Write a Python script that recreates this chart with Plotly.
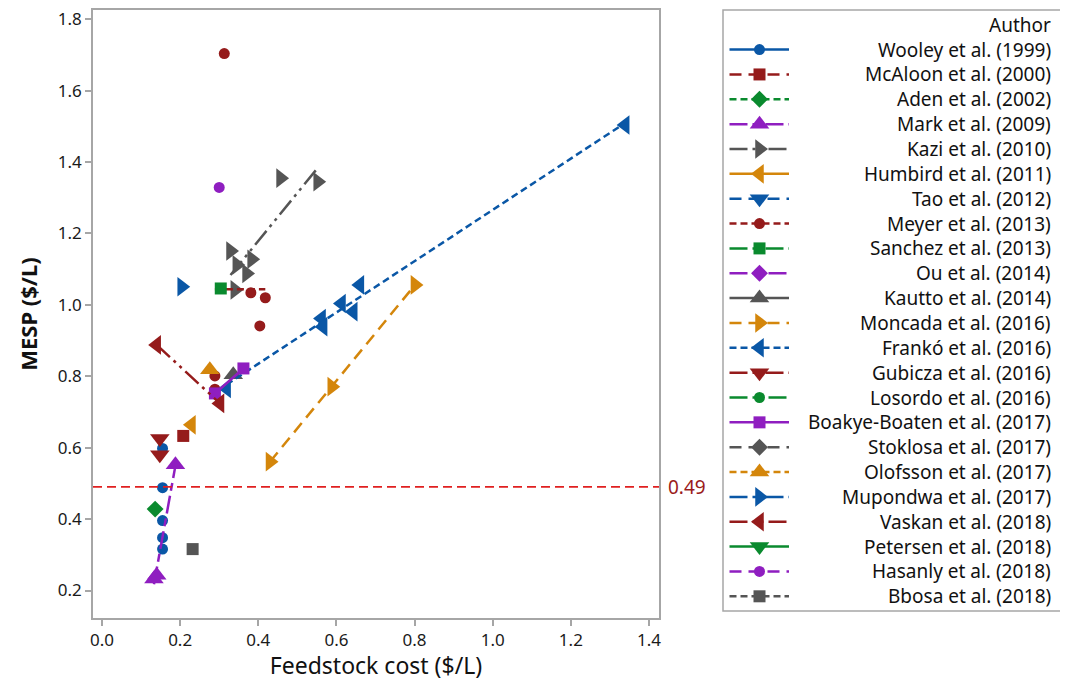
import numpy as np
import plotly.graph_objects as go

# ---------------- data ----------------
authors = [
    "Wooley et al. (1999)", "McAloon et al. (2000)", "Aden et al. (2002)",
    "Mark et al. (2009)", "Kazi et al. (2010)", "Humbird et al. (2011)",
    "Tao et al. (2012)", "Meyer et al. (2013)", "Sanchez et al. (2013)",
    "Ou et al. (2014)", "Kautto et al. (2014)", "Moncada et al. (2016)",
    "Frankó et al. (2016)", "Gubicza et al. (2016)", "Losordo et al. (2016)",
    "Boakye-Boaten et al. (2017)", "Stoklosa et al. (2017)", "Olofsson et al. (2017)",
    "Mupondwa et al. (2017)", "Vaskan et al. (2018)", "Petersen et al. (2018)",
    "Hasanly et al. (2018)", "Bbosa et al. (2018)",
]

wooley_x = [0.155, 0.155, 0.155, 0.155, 0.155]
wooley_y = [0.598, 0.488, 0.396, 0.348, 0.316]
mcaloon_x = [0.208]
mcaloon_y = [0.633]
aden_x = [0.136]
aden_y = [0.428]
mark_x = [0.133, 0.140, 0.188]
mark_y = [0.232, 0.243, 0.552]
kazi_x = [0.329, 0.340, 0.345, 0.370, 0.383, 0.457, 0.552]
kazi_y = [1.151, 1.042, 1.112, 1.088, 1.128, 1.355, 1.345]
humbird_x = [0.229]
humbird_y = [0.664]
tao_x = []
tao_y = []
meyer_x = [0.289, 0.289, 0.313, 0.381, 0.404, 0.418]
meyer_y = [0.801, 0.764, 1.704, 1.034, 0.941, 1.020]
sanchez_x = [0.304]
sanchez_y = [1.046]
ou_x = []
ou_y = []
kautto_x = [0.336]
kautto_y = [0.804]
moncada_x = [0.430, 0.588, 0.801]
moncada_y = [0.561, 0.771, 1.056]
franko_x = [0.319, 0.562, 0.566, 0.613, 0.643, 0.660, 1.339]
franko_y = [0.766, 0.962, 0.939, 1.004, 0.981, 1.056, 1.504]
gubicza_x = [0.148, 0.148]
gubicza_y = [0.626, 0.580]
losordo_x = []
losordo_y = []
boakye_x = [0.289, 0.362]
boakye_y = [0.752, 0.822]
stoklosa_x = []
stoklosa_y = []
olofsson_x = [0.276]
olofsson_y = [0.818]
mupondwa_x = [0.204]
mupondwa_y = [1.051]
vaskan_x = [0.140, 0.302]
vaskan_y = [0.888, 0.724]
petersen_x = []
petersen_y = []
hasanly_x = [0.300]
hasanly_y = [1.329]
bbosa_x = [0.232]
bbosa_y = [0.316]

series_x = [wooley_x, mcaloon_x, aden_x, mark_x, kazi_x, humbird_x, tao_x, meyer_x,
            sanchez_x, ou_x, kautto_x, moncada_x, franko_x, gubicza_x, losordo_x,
            boakye_x, stoklosa_x, olofsson_x, mupondwa_x, vaskan_x, petersen_x,
            hasanly_x, bbosa_x]
series_y = [wooley_y, mcaloon_y, aden_y, mark_y, kazi_y, humbird_y, tao_y, meyer_y,
            sanchez_y, ou_y, kautto_y, moncada_y, franko_y, gubicza_y, losordo_y,
            boakye_y, stoklosa_y, olofsson_y, mupondwa_y, vaskan_y, petersen_y,
            hasanly_y, bbosa_y]

threshold = 0.49
x_ticks = [0.0, 0.2, 0.4, 0.6, 0.8, 1.0, 1.2, 1.4]
y_ticks = [0.2, 0.4, 0.6, 0.8, 1.0, 1.2, 1.4, 1.6, 1.8]

# ---------------- styles ----------------
FONT = "Noto Sans"
palette = ["#0a57a6", "#951b1b", "#0a8a2e", "#8f1ec0", "#555555", "#d4860b"]
symbol_cycle = ["circle", "square", "diamond", "triangle-up", "triangle-right",
                "triangle-left", "triangle-down"]
size_cycle = [11, 12, 13, 17, 17, 17, 17]
dash_cycle = ["solid", "12px,7px", "7px,4px", "18px,5px,8px,5px",
              "18px,5px,3px,5px,3px,5px"]

fig = go.Figure()

for i, name in enumerate(authors):
    color = palette[i % 6]
    sym = symbol_cycle[i % 7]
    msize = size_cycle[i % 7]
    dash = dash_cycle[i % 5]
    xs = np.array(series_x[i], dtype=float)
    ys = np.array(series_y[i], dtype=float)
    if len(xs) >= 2 and np.ptp(xs) > 0:
        b, a = np.polyfit(xs, ys, 1)
        lx = np.array([xs.min(), xs.max()])
        fig.add_trace(go.Scatter(x=lx, y=a + b * lx, mode="lines",
                                 line=dict(color=color, width=2.5, dash=dash),
                                 showlegend=False, hoverinfo="skip"))
    if len(xs) > 0:
        fig.add_trace(go.Scatter(x=xs, y=ys, mode="markers", name=name,
                                 marker=dict(symbol=sym, size=msize, color=color,
                                             line=dict(width=0)),
                                 showlegend=False))

# ---------------- custom legend (right panel, page-pixel units) ----------------
leg_y0 = 49.6
leg_dy = 24.85
for i, name in enumerate(authors):
    color = palette[i % 6]
    sym = symbol_cycle[i % 7]
    msize = size_cycle[i % 7]
    dash = dash_cycle[i % 5]
    yy = leg_y0 + i * leg_dy
    fig.add_trace(go.Scatter(x=[729.5, 789], y=[yy, yy], mode="lines",
                             line=dict(color=color, width=2.5, dash=dash),
                             xaxis="x2", yaxis="y2", showlegend=False, hoverinfo="skip"))
    fig.add_trace(go.Scatter(x=[759.5], y=[yy], mode="markers",
                             marker=dict(symbol=sym, size=msize, color=color, line=dict(width=0)),
                             xaxis="x2", yaxis="y2", showlegend=False, hoverinfo="skip"))
    fig.add_annotation(x=1053, y=yy, xref="x2", yref="y2", text=name, showarrow=False,
                       xanchor="right", yanchor="middle",
                       font=dict(family=FONT, size=19, color="#111111"))

fig.add_annotation(x=1053, y=25, xref="x2", yref="y2", text="Author", showarrow=False,
                   xanchor="right", yanchor="middle",
                   font=dict(family=FONT, size=19, color="#111111"))

fig.add_shape(type="rect", xref="x2 domain", yref="y2 domain", x0=0, x1=1, y0=0, y1=1,
              line=dict(color="#a6a6a6", width=1.5), fillcolor="rgba(0,0,0,0)")

# ---------------- reference line ----------------
fig.add_shape(type="line", xref="x domain", yref="y", x0=0, x1=1, y0=threshold, y1=threshold,
              line=dict(color="#e02020", width=1.8, dash="9px,5px"))
fig.add_annotation(x=1, y=threshold, xref="x domain", yref="y", text=f"{threshold:.2f}",
                   showarrow=False, xanchor="left", yanchor="middle", xshift=7,
                   font=dict(family=FONT, size=19, color="#9b1c1c"))

# page has an 8px body margin: figure coordinates = page coordinates - 8
OFF = 8
W, H = 1068 - OFF, 681 - OFF


def fx(p):
    return (p - OFF) / W


def fy(p):
    return 1 - (p - OFF) / H


axis_common = dict(showline=True, mirror=True, linecolor="#a6a6a6", linewidth=1.5,
                   ticks="outside", ticklen=6, tickcolor="#a6a6a6", tickwidth=1.5,
                   showgrid=False, zeroline=False, automargin=False,
                   ticklabeloverflow="allow",
                   tickfont=dict(family=FONT, size=17, color="#1a1a1a"))

fig.update_layout(
    width=W, height=H,
    margin=dict(l=0, r=0, t=0, b=0),
    paper_bgcolor="white", plot_bgcolor="white",
    showlegend=False,
    xaxis=dict(domain=[fx(93), fx(659)], range=[-0.023, 1.4256],
               tickvals=x_ticks, ticktext=[f"{v:.1f}" for v in x_ticks],
               title=dict(text="Feedstock cost ($/L)", standoff=5,
                          font=dict(family=FONT, size=23, color="#111111")),
               **axis_common),
    yaxis=dict(domain=[fy(618), fy(10)], range=[0.123, 1.826],
               tickvals=y_ticks, ticktext=[f"{v:.1f}" for v in y_ticks],
               title=dict(text="<b>MESP ($/L)</b>", standoff=14,
                          font=dict(family=FONT, size=22, color="#111111")),
               **axis_common),
    xaxis2=dict(domain=[fx(723), fx(1062)], range=[723, 1062], visible=False,
                fixedrange=True),
    yaxis2=dict(domain=[fy(611), fy(10)], range=[611, 10], visible=False,
                fixedrange=True),
)

fig.write_html("out.html")
